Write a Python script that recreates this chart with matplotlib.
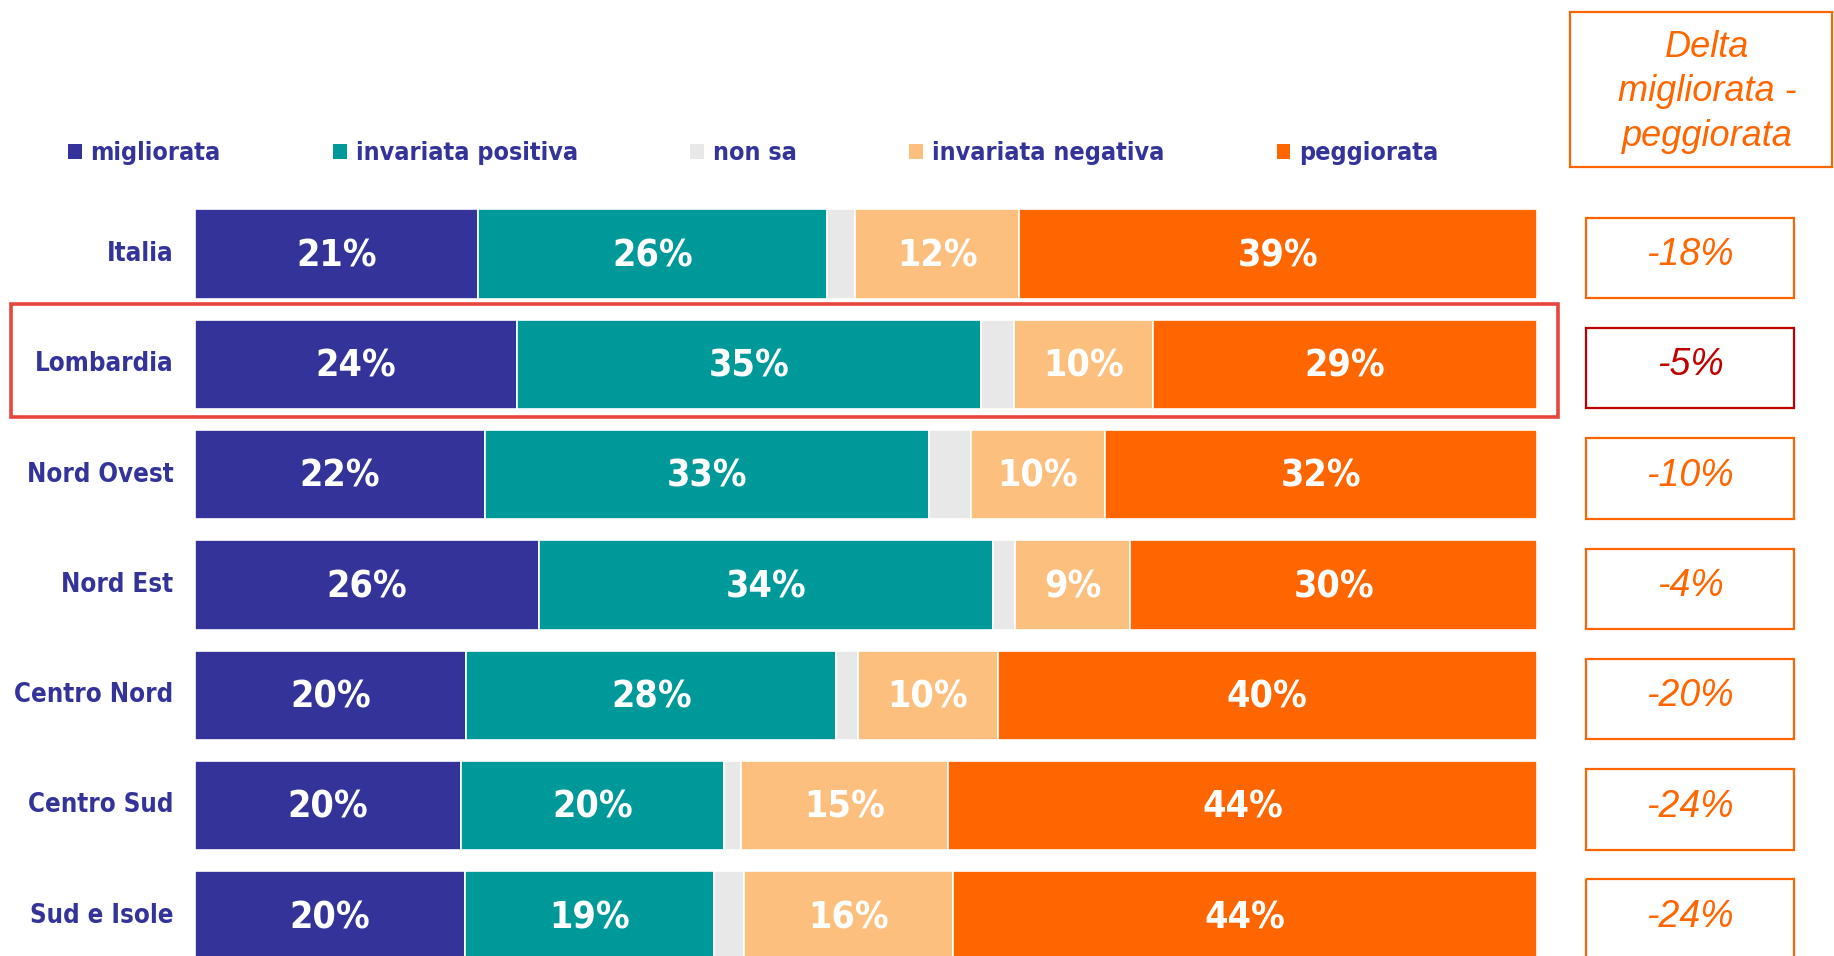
import numpy as np
import matplotlib.pyplot as plt
from matplotlib.patches import Rectangle

# Data
regions = ['Italia', 'Lombardia', 'Nord Ovest', 'Nord Est', 'Centro Nord', 'Centro Sud', 'Sud e Isole']
migliorata = [21.1, 24.0, 21.6, 25.6, 20.2, 19.8, 20.1]
invariata_positiva = [26.0, 34.6, 33.1, 33.9, 27.6, 19.6, 18.6]
non_sa = [2.1, 2.4, 3.1, 1.6, 1.6, 1.3, 2.2]
invariata_negativa = [12.2, 10.4, 10.0, 8.6, 10.4, 15.4, 15.6]
peggiorata = [38.6, 28.6, 32.2, 30.3, 40.2, 43.9, 43.5]
delta = [-18, -5, -10, -4, -20, -24, -24]

series = [
    ('migliorata', migliorata, '#333399'),
    ('invariata positiva', invariata_positiva, '#009999'),
    ('non sa', non_sa, '#E8E8E8'),
    ('invariata negativa', invariata_negativa, '#FDBF7D'),
    ('peggiorata', peggiorata, '#FF6600'),
]

navy = '#333399'
orange = '#FF6600'
narrow = ['Liberation Sans Narrow', 'DejaVu Sans']
plain = ['Liberation Sans', 'DejaVu Sans']

W, H = 1834, 956
fig = plt.figure(figsize=(W / 100, H / 100), dpi=100)

# bars occupy x 195..1537 px; rows 110.3 px apart, first centred at y=254 px
x0, x1 = 195, 1537
row0, step = 254, 110.3
ax = fig.add_axes([x0 / W, 0, (x1 - x0) / W, 1])
ax.set_xlim(0, 100)
ax.set_ylim((H - row0) / step, -row0 / step)
ax.axis('off')

y = np.arange(len(regions))
left = np.zeros(len(regions))
handles = []
for name, vals, col in series:
    bars = ax.barh(y, vals, left=left, height=0.81, color=col,
                   edgecolor='white', linewidth=1.2, label=name)
    handles.append(bars)
    if name != 'non sa':
        for yi, l, v in zip(y, left, vals):
            ax.text(l + v / 2, yi + 0.02, f'{v:.0f}%', ha='center', va='center',
                    color='white', fontsize=27, fontweight='bold', family=narrow,
                    fontstretch='condensed')
    left += np.array(vals)

# category labels
for yi, name in zip(y, regions):
    ax.text(-1.6, yi, name, ha='right', va='center', color=navy,
            fontsize=18.5, fontweight='bold', family=narrow, fontstretch='condensed')

# highlight on Lombardia
ax.add_patch(Rectangle((-13.7, 0.45), 115.3, 1.03, fill=False,
                       edgecolor='#E8453C', linewidth=2.6, clip_on=False))

# delta boxes
bx0, bx1 = 103.65, 119.15
for yi, d in zip(y, delta):
    col = '#C00000' if regions[yi] == 'Lombardia' else orange
    ax.add_patch(Rectangle((bx0, yi - 0.33), bx1 - bx0, 0.73, fill=False,
                           edgecolor=col, linewidth=1.6, clip_on=False))
    ax.text((bx0 + bx1) / 2, yi + 0.01, f'{d}%', ha='center', va='center',
            color=col, fontsize=27, style='italic', family=plain, clip_on=False)

# header box
ax.add_patch(Rectangle((102.45, -2.19), 19.5, 1.4, fill=False,
                       edgecolor=orange, linewidth=1.6, clip_on=False))
ax.text(112.7, -1.47, 'Delta\nmigliorata -\npeggiorata', ha='center', va='center',
        color=orange, fontsize=26, style='italic', family=plain,
        linespacing=1.35, clip_on=False)

# legend
leg = ax.legend(handles=handles, loc='center left', ncol=5,
                bbox_to_anchor=(58 / W, 1 - 153 / H), bbox_transform=fig.transFigure,
                frameon=False, handlelength=0.55, handleheight=0.55,
                handletextpad=0.35, columnspacing=4.5, borderaxespad=0,
                prop={'family': narrow, 'weight': 'bold', 'size': 18,
                      'stretch': 'condensed'})
for t in leg.get_texts():
    t.set_color(navy)
for h in leg.legend_handles:
    h.set_edgecolor('none')

fig.savefig('out.png', dpi=100)
